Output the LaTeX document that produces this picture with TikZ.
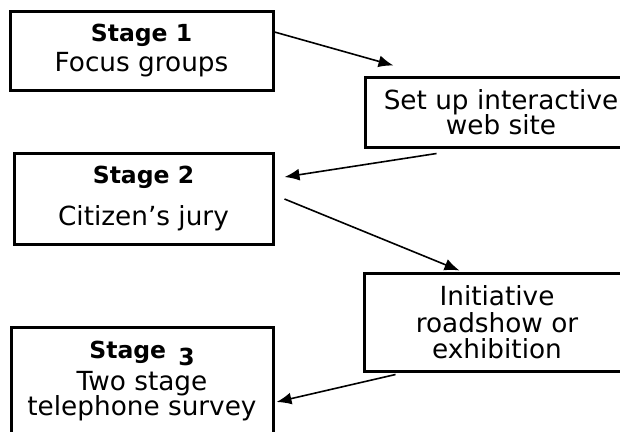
\documentclass[tikz,border=0pt]{standalone}
\usepackage{fontspec}
\setmainfont{DejaVu Sans}
\usepackage{tikz}
\usetikzlibrary{arrows.meta, calc, positioning}
\usepackage{xcolor}
\definecolor{RichBlack}{gray}{0.0}
\tikzset{%
  stage_block/.style={%
    rectangle,%
    draw=RichBlack,%
    line width=3pt,%
    inner sep=0pt,%
    font={\fontsize{26.3}{25.5}\selectfont},%
    align=center%
  },
  arrow/.style={-{Latex[length=15pt, width=12pt]}},
  stage_path/.style={%
    color=RichBlack,%
    line join=round,%
    line width=1.6pt,%
  },
}
\newcommand{\stagehead}[1]{{\fontsize{23.5}{23.5}\selectfont\bfseries #1}}

\begin{document}
\begin{tikzpicture}[x=1pt, y=-1pt]

    \clip (0, 0) rectangle (620, 431);

    \node [stage_block, minimum width=263, minimum height=79]
      (Stage1) at (141.5, 50.5) {%
      \stagehead{Stage 1}\\[4pt]
      Focus groups%
    };
    \node [stage_block, minimum width=272, minimum height=70]
      (WebSite) at (501, 112) {%
      Set up interactive\\
      web site%
    };
    \node [stage_block, minimum width=259, minimum height=91]
      (Stage2) at (143.5, 198.5) {%
      \stagehead{Stage 2}\\[16pt]
      Citizen’s jury%
    };
    \node [stage_block, minimum width=266, minimum height=98]
      (Roadshow) at (497, 322) {%
      Initiative\\[2pt]
      roadshow or\\
      exhibition%
    };
    \node [stage_block, minimum width=262, minimum height=108]
      (Stage3) at (142, 381) {%
      \stagehead{Stage \,\raisebox{-7pt}{3}}\\[5pt]
      Two stage\\[-1pt]
      telephone survey%
    };

    \draw [arrow, stage_path]
      ($(Stage1.east) + (0, -18.5)$)
      --
      ($(WebSite.north west) + (30, -10)$);
    \draw [arrow, stage_path]
      ($(WebSite.south west) + (73, 5)$)
      --
      ($(Stage2.east) + (10, -21.5)$);
    \draw [arrow, stage_path]
      ($(Stage2.east) + (10, 0.5)$)
      --
      ($(Roadshow.north west) + (97, -1)$);
    \draw [arrow, stage_path]
      ($(Roadshow.south west) + (33, 2)$)
      --
      ($(Stage3.east) + (2, 21)$);
  \end{tikzpicture}
\end{document}
